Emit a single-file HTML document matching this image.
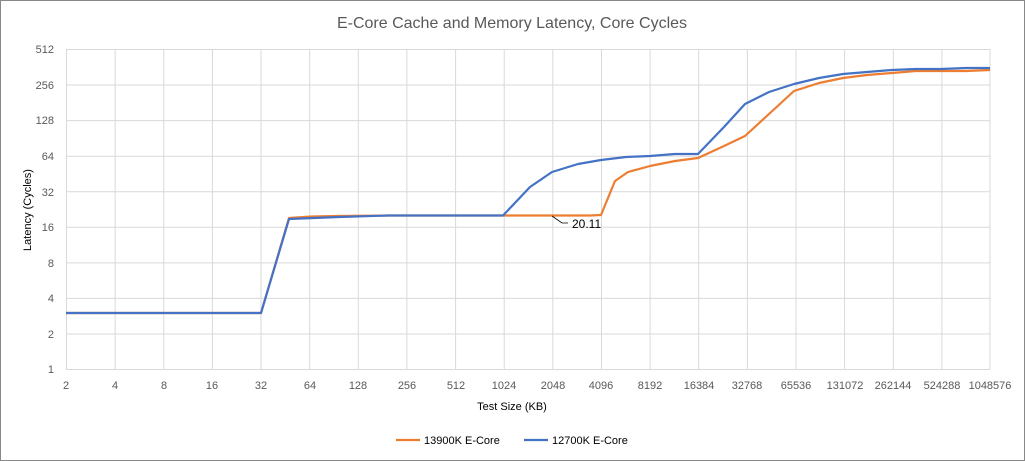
<!DOCTYPE html>
<html><head><meta charset="utf-8"><style>
html,body{margin:0;padding:0;background:#fff;}
svg{display:block;font-family:"Liberation Sans",sans-serif;}
</style></head><body>
<svg width="1025" height="461" viewBox="0 0 1025 461">
<rect x="0.5" y="0.5" width="1024" height="460" fill="#fff" stroke="#888"/>
<text x="512" y="28" text-anchor="middle" font-size="16" fill="#595959">E-Core Cache and Memory Latency, Core Cycles</text>
<g stroke="#d9d9d9" stroke-width="1">
<line x1="66" y1="49.5" x2="990" y2="49.5"/><line x1="66" y1="85" x2="990" y2="85"/><line x1="66" y1="120.6" x2="990" y2="120.6"/><line x1="66" y1="156.2" x2="990" y2="156.2"/><line x1="66" y1="191.7" x2="990" y2="191.7"/><line x1="66" y1="227.3" x2="990" y2="227.3"/><line x1="66" y1="262.9" x2="990" y2="262.9"/><line x1="66" y1="298.4" x2="990" y2="298.4"/><line x1="66" y1="334" x2="990" y2="334"/>
<line x1="66" y1="369.5" x2="990" y2="369.5"/>
<line x1="66.5" y1="49" x2="66.5" y2="369"/><line x1="115.1" y1="49" x2="115.1" y2="369"/><line x1="163.8" y1="49" x2="163.8" y2="369"/><line x1="212.4" y1="49" x2="212.4" y2="369"/><line x1="261" y1="49" x2="261" y2="369"/><line x1="309.7" y1="49" x2="309.7" y2="369"/><line x1="358.3" y1="49" x2="358.3" y2="369"/><line x1="406.9" y1="49" x2="406.9" y2="369"/><line x1="455.6" y1="49" x2="455.6" y2="369"/><line x1="504.2" y1="49" x2="504.2" y2="369"/><line x1="552.8" y1="49" x2="552.8" y2="369"/><line x1="601.5" y1="49" x2="601.5" y2="369"/><line x1="650.1" y1="49" x2="650.1" y2="369"/><line x1="698.7" y1="49" x2="698.7" y2="369"/><line x1="747.4" y1="49" x2="747.4" y2="369"/><line x1="796" y1="49" x2="796" y2="369"/><line x1="844.6" y1="49" x2="844.6" y2="369"/><line x1="893.3" y1="49" x2="893.3" y2="369"/><line x1="941.9" y1="49" x2="941.9" y2="369"/><line x1="990" y1="49" x2="990" y2="369"/>
</g>
<g font-size="11" fill="#595959" text-anchor="end">
<text x="54" y="53">512</text><text x="54" y="89">256</text><text x="54" y="124">128</text><text x="54" y="160">64</text><text x="54" y="196">32</text><text x="54" y="231">16</text><text x="54" y="267">8</text><text x="54" y="302">4</text><text x="54" y="338">2</text><text x="54" y="373">1</text>
</g>
<g font-size="11" fill="#595959" text-anchor="middle">
<text x="66" y="389">2</text><text x="115" y="389">4</text><text x="164" y="389">8</text><text x="212" y="389">16</text><text x="261" y="389">32</text><text x="310" y="389">64</text><text x="358" y="389">128</text><text x="407" y="389">256</text><text x="456" y="389">512</text><text x="504" y="389">1024</text><text x="553" y="389">2048</text><text x="601" y="389">4096</text><text x="650" y="389">8192</text><text x="699" y="389">16384</text><text x="747" y="389">32768</text><text x="796" y="389">65536</text><text x="845" y="389">131072</text><text x="893" y="389">262144</text><text x="942" y="389">524288</text><text x="990" y="389">1048576</text>
</g>
<text x="512" y="410" text-anchor="middle" font-size="11" fill="#000">Test Size (KB)</text>
<text transform="translate(31,210) rotate(-90)" text-anchor="middle" font-size="11" fill="#000">Latency (Cycles)</text>
<polyline fill="none" stroke="#ed7d31" stroke-width="2.2" stroke-linejoin="round" points="66,313 261,313 289,218 312,216.5 339,216 388,215.5 503,215.5 552,215.5 590,215.5 601,215 615,181 628,172 650,166 675,161 698,158 724,146 745,136 769,114 794,91 819,83 843,78 867,75 892,73 916,71 941,71 966,71 990,70"/>
<polyline fill="none" stroke="#4472c4" stroke-width="2.2" stroke-linejoin="round" points="66,313 261,313 289,219 339,217 388,215.5 503,215.5 530,187 552,172 578,164 601,160 626,157 650,156 675,154 698,154 724,127 745,104 769,92 794,84 819,78 843,74 867,72 892,70 916,69 941,69 966,68 990,68"/>
<polyline fill="none" stroke="#000" stroke-width="0.8" points="552,216 562,223 568,223"/>
<text x="572" y="228" font-size="12" fill="#000">20.11</text>
<line x1="396" y1="440" x2="420" y2="440" stroke="#ed7d31" stroke-width="2.2"/>
<text x="424" y="444" font-size="11" fill="#000">13900K E-Core</text>
<line x1="524" y1="440" x2="548" y2="440" stroke="#4472c4" stroke-width="2.2"/>
<text x="552" y="444" font-size="11" fill="#000">12700K E-Core</text>
</svg>
</body></html>
